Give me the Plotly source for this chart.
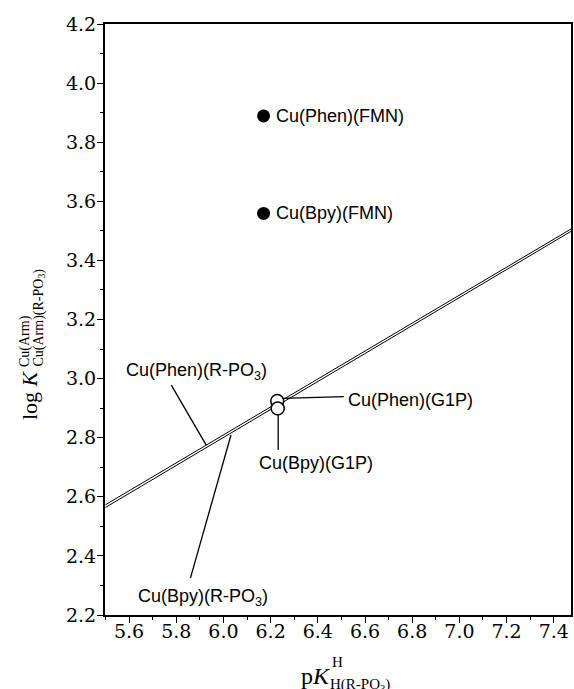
import plotly.graph_objects as go

# ---------------- data ----------------
# filled points (FMN complexes)
fmn_labels = ["Cu(Phen)(FMN)", "Cu(Bpy)(FMN)"]
fmn_x = [6.17, 6.17]
fmn_y = [3.889, 3.559]

# open points (G1P complexes)
g1p_labels = ["Cu(Phen)(G1P)", "Cu(Bpy)(G1P)"]
g1p_x = [6.228, 6.23]
g1p_y = [2.924, 2.899]

# reference lines (straight-line relations)
line_x = [5.5, 7.5]
phen_line_y = [2.573, 3.519]
bpy_line_y = [2.564, 3.511]

x_ticks = [5.6, 5.8, 6.0, 6.2, 6.4, 6.6, 6.8, 7.0, 7.2, 7.4]
x_minor = [5.5, 5.7, 5.9, 6.1, 6.3, 6.5, 6.7, 6.9, 7.1, 7.3]
y_ticks = [2.2, 2.4, 2.6, 2.8, 3.0, 3.2, 3.4, 3.6, 3.8, 4.0, 4.2]
y_minor = [2.3, 2.5, 2.7, 2.9, 3.1, 3.3, 3.5, 3.7, 3.9, 4.1]

# ---------------- figure ----------------
W, H = 574, 689
L, R, T, B = 105, 1, 24, 74
X_RANGE = [5.498, 7.473]
Y_RANGE = [2.2, 4.2]

fig = go.Figure()

fig.add_trace(go.Scatter(x=line_x, y=phen_line_y, mode="lines",
                         line=dict(color="black", width=1), showlegend=False,
                         hoverinfo="skip"))
fig.add_trace(go.Scatter(x=line_x, y=bpy_line_y, mode="lines",
                         line=dict(color="black", width=1), showlegend=False,
                         hoverinfo="skip"))

fig.add_trace(go.Scatter(x=fmn_x, y=fmn_y, mode="markers",
                         marker=dict(symbol="circle", size=13, color="black"),
                         showlegend=False, text=fmn_labels))
fig.add_trace(go.Scatter(x=g1p_x[:1], y=g1p_y[:1], mode="markers",
                         marker=dict(symbol="circle", size=13, color="white",
                                     line=dict(color="black", width=1.5)),
                         showlegend=False, text=g1p_labels[:1]))
fig.add_trace(go.Scatter(x=g1p_x[1:], y=g1p_y[1:], mode="markers",
                         marker=dict(symbol="circle", size=13, color="white",
                                     line=dict(color="black", width=1.5)),
                         showlegend=False, text=g1p_labels[1:]))

lab_font = dict(family="Liberation Sans, Arial, sans-serif", size=18, color="black")
ann = []
# FMN labels
for lx, ly, t in zip(fmn_x, fmn_y, fmn_labels):
    ann.append(dict(x=lx, y=ly, xref="x", yref="y", text=t, showarrow=False,
                    xanchor="left", yanchor="middle", xshift=10, font=lab_font))

# G1P labels
ann.append(dict(x=6.518, y=2.928, xref="x", yref="y", text=g1p_labels[0],
                showarrow=False, xanchor="left", yanchor="middle", font=lab_font))
ann.append(dict(x=6.394, y=2.713, xref="x", yref="y", text=g1p_labels[1],
                showarrow=False, xanchor="center", yanchor="middle", font=lab_font))
# line labels
ann.append(dict(x=5.884, y=3.023, xref="x", yref="y", text="Cu(Phen)(R-PO<sub>3</sub>)",
                showarrow=False, xanchor="center", yanchor="middle", font=lab_font))
ann.append(dict(x=5.913, y=2.258, xref="x", yref="y", text="Cu(Bpy)(R-PO<sub>3</sub>)",
                showarrow=False, xanchor="center", yanchor="middle", font=lab_font))

# leader lines
leaders = [
    (5.779, 2.978, 5.927, 2.775),   # Phen R-PO3
    (5.860, 2.325, 6.032, 2.809),   # Bpy R-PO3
    (6.250, 2.933, 6.510, 2.939),   # Phen G1P
    (6.232, 2.877, 6.232, 2.758),   # Bpy G1P
]
shapes = []
for x0, y0, x1, y1 in leaders:
    shapes.append(dict(type="line", xref="x", yref="y", x0=x0, y0=y0, x1=x1, y1=y1,
                       line=dict(color="black", width=1.3)))

# axis titles built from pieces (stacked super/subscripts)
serif = "Liberation Serif, Times New Roman, serif"
def px_ann(text, px, py, size, xanchor="center", yanchor="middle", angle=0):
    return dict(text=text, xref="paper", yref="paper", x=0, y=0,
                xshift=px - L, yshift=(H - B) - py, showarrow=False,
                xanchor=xanchor, yanchor=yanchor, textangle=angle,
                font=dict(family=serif, size=size, color="black"))

# y title
ann.append(px_ann("log <i>K</i>", 29, 395, 22, angle=-90))
ann.append(px_ann("Cu(Arm)", 25, 341, 14, angle=-90))
ann.append(px_ann("Cu(Arm)(R-PO<sub>3</sub>)", 38.5, 318, 14, angle=-90))
# x title
ann.append(px_ann("p<i>K</i>", 333, 676, 24, xanchor="right"))
ann.append(px_ann("H", 330, 662, 15, xanchor="left"))
ann.append(px_ann("H(R-PO<sub>3</sub>)", 328, 685, 15, xanchor="left"))

tick_font = dict(family="DejaVu Serif, serif", size=19, color="black")
axis_common = dict(showline=True, linecolor="black", linewidth=2, mirror=True,
                   ticks="outside", ticklen=6, tickwidth=1.3, tickcolor="black",
                   showgrid=False, zeroline=False, tickfont=tick_font,
                   tickformat=".1f")

fig.update_xaxes(range=X_RANGE, tickvals=x_ticks, ticklabelstandoff=-8,
                 minor=dict(tickvals=x_minor, ticks="outside", ticklen=3,
                            tickcolor="black", tickwidth=1),
                 **axis_common)
fig.update_yaxes(range=Y_RANGE, tickvals=y_ticks, ticklabelstandoff=-3,
                 minor=dict(tickvals=y_minor, ticks="outside", ticklen=3,
                            tickcolor="black", tickwidth=1),
                 **axis_common)

fig.update_layout(width=W, height=H, margin=dict(l=L, r=R, t=T, b=B),
                  paper_bgcolor="white", plot_bgcolor="white",
                  annotations=ann, shapes=shapes, showlegend=False)

fig.write_html("out.html", config={"displayModeBar": False},
               post_script="document.body.style.margin='0';"
                           "document.body.style.overflow='hidden';")
